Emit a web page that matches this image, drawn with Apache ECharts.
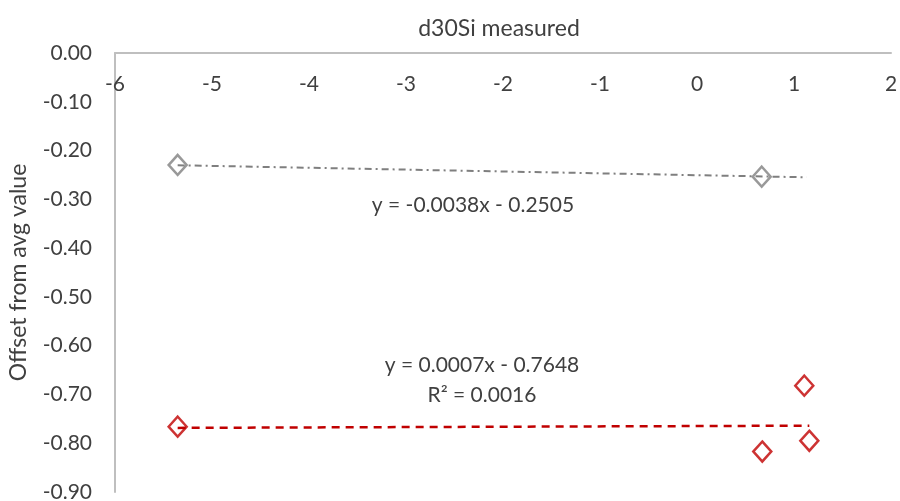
<!DOCTYPE html>
<html>
<head>
<meta charset="utf-8">
<script src="https://cdn.jsdelivr.net/npm/echarts@6/dist/echarts.min.js"></script>
<style>
html,body{margin:0;padding:0;background:#fff;}
#chart{width:900px;height:501px;}
</style>
</head>
<body>
<div id="chart"></div>
<script>
// Measured d30Si vs offset from the average value
const grayX = [-5.354, 0.667];
const grayY = [-0.2295, -0.2535];
const redX = [-5.354, 0.673, 1.106, 1.158];
const redY = [-0.766, -0.817, -0.682, -0.795];

// Linear trendlines (slope, intercept) and their x spans
const grayFit = { slope: -0.0038, intercept: -0.2505, x0: -5.354, x1: 1.13 };
const redFit = { slope: 0.0007, intercept: -0.7648, x0: -5.354, x1: 1.158 };

const xTicks = [-6, -5, -4, -3, -2, -1, 0, 1, 2];
const yTicks = [0, -0.1, -0.2, -0.3, -0.4, -0.5, -0.6, -0.7, -0.8, -0.9];

const grayEq = 'y = -0.0038x - 0.2505';
const redEq = 'y = 0.0007x - 0.7648';
const redR2 = 'R² = 0.0016';

const FONT = 'Lato';
const TEXT = '#404040';

function pairs(xs, ys) { return xs.map((x, i) => [x, ys[i]]); }
function fitLine(f) {
  return [[f.x0, f.slope * f.x0 + f.intercept], [f.x1, f.slope * f.x1 + f.intercept]];
}

const chart = echarts.init(document.getElementById('chart'), null, { renderer: 'canvas' });
chart.setOption({
  animation: false,
  backgroundColor: '#fff',
  textStyle: { fontFamily: FONT },
  grid: { left: 115, right: 9, top: 53, bottom: 9, containLabel: false, outerBoundsMode: 'none' },
  title: {
    text: 'd30Si measured',
    left: 494, top: 12, textAlign: 'center',
    textStyle: { fontFamily: FONT, fontSize: 23, fontWeight: 'normal', color: TEXT }
  },
  xAxis: {
    type: 'value', position: 'top',
    min: xTicks[0], max: xTicks[xTicks.length - 1], interval: 1,
    axisLine: { show: true, onZero: false, lineStyle: { color: '#bfbfbf', width: 2 } },
    axisTick: { show: false },
    splitLine: { show: false },
    axisLabel: { inside: true, margin: 21, fontFamily: FONT, fontSize: 21, color: TEXT, showMinLabel: true, showMaxLabel: true }
  },
  yAxis: {
    type: 'value',
    min: yTicks[yTicks.length - 1], max: yTicks[0], interval: 0.1,
    name: 'Offset from avg value', nameLocation: 'middle', nameGap: 85, nameRotate: 90,
    nameTextStyle: { fontFamily: FONT, fontSize: 23, color: TEXT },
    axisLine: { show: true, onZero: false, lineStyle: { color: '#bfbfbf', width: 2 } },
    axisTick: { show: false },
    splitLine: { show: false },
    axisLabel: { margin: 23, fontFamily: FONT, fontSize: 21, color: TEXT, formatter: v => v.toFixed(2) }
  },
  series: [
    {
      type: 'line', data: fitLine(grayFit), symbol: 'none', silent: true,
      lineStyle: { color: '#7f7f7f', width: 2, type: [7, 4, 2, 4] }
    },
    {
      type: 'line', data: fitLine(redFit), symbol: 'none', silent: true,
      lineStyle: { color: '#c00000', width: 2.5, type: [8, 6] }
    },
    {
      type: 'scatter', data: pairs(grayX, grayY), symbol: 'diamond', symbolSize: [18, 20],
      itemStyle: { color: '#fff', borderColor: '#7f7f7f', borderWidth: 2.5 }
    },
    {
      type: 'scatter', data: pairs(redX, redY), symbol: 'diamond', symbolSize: [18, 20],
      itemStyle: { color: 'rgba(255,255,255,0)', borderColor: '#c00000', borderWidth: 2.5 }
    }
  ],
  graphic: [
    { type: 'text', x: 473, y: 205, style: { text: grayEq, font: '21px Lato', fill: TEXT, align: 'center', verticalAlign: 'middle' } },
    { type: 'text', x: 482, y: 365, style: { text: redEq, font: '21px Lato', fill: TEXT, align: 'center', verticalAlign: 'middle' } },
    { type: 'text', x: 482, y: 395, style: { text: redR2, font: '21px Lato', fill: TEXT, align: 'center', verticalAlign: 'middle' } }
  ]
});
</script>
</body>
</html>
